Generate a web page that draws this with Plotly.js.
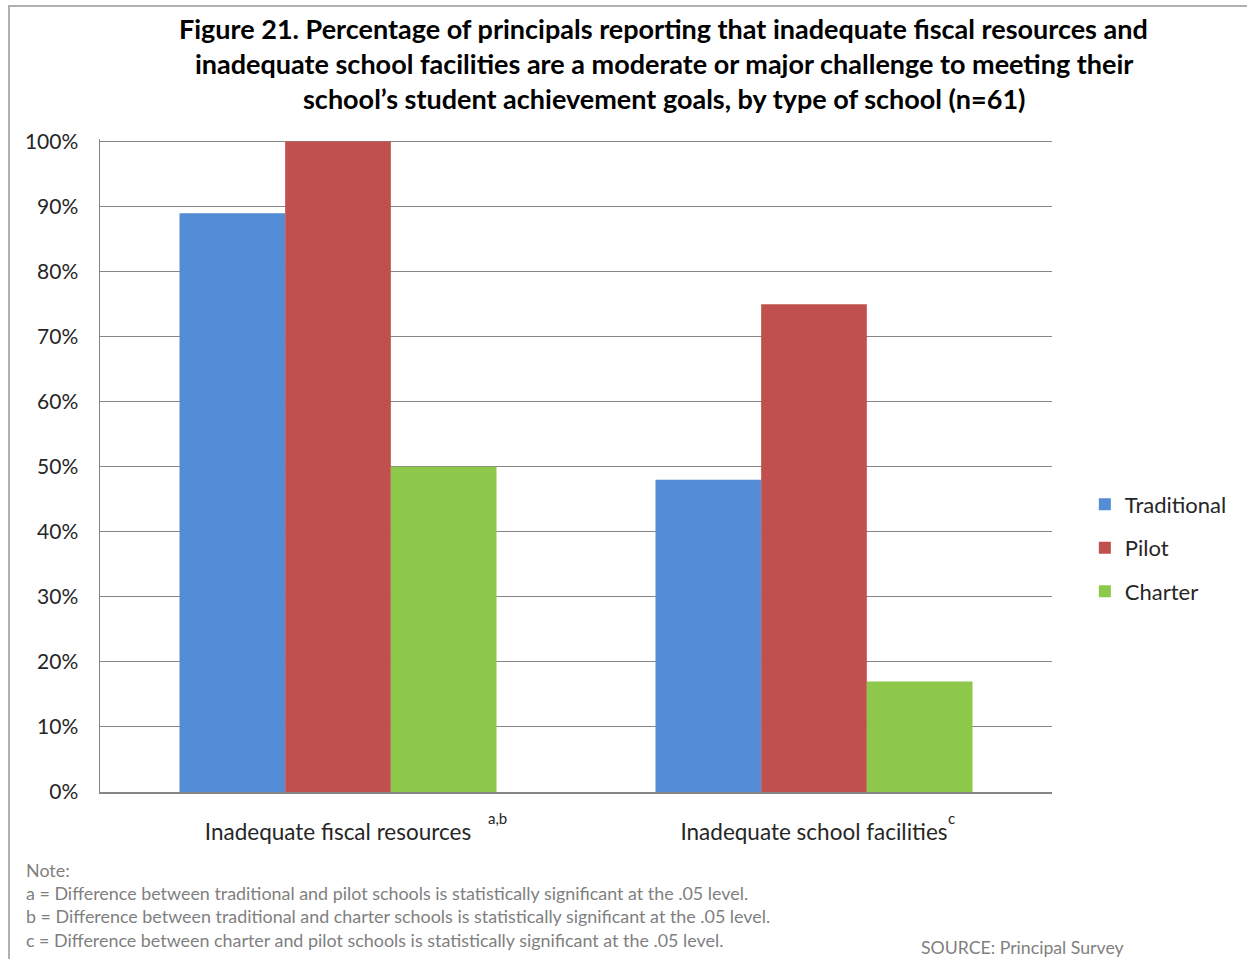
<!DOCTYPE html>
<html><head><meta charset="utf-8">
<script src="https://cdn.plot.ly/plotly-3.0.1.min.js"></script>
<style>body{margin:0;padding:0;background:#fff;overflow:hidden}#frame{position:absolute;left:8px;top:5px;width:1300px;height:1000px;border-left:2px solid #b0b0b0;border-top:2px solid #b0b0b0;pointer-events:none}</style>
</head><body>
<div id="chart" style="width:1247px;height:959px"></div>
<div id="frame"></div>
<script>
const categories = ["Inadequate fiscal resources", "Inadequate school facilities"];
const superscripts = ["a,b", "c"];
const traditional = [0.89, 0.48];
const pilot = [1.00, 0.75];
const charter = [0.50, 0.17];
const tickVals = [0, 0.1, 0.2, 0.3, 0.4, 0.5, 0.6, 0.7, 0.8, 0.9, 1.0];
const tickText = ["0%", "10%", "20%", "30%", "40%", "50%", "60%", "70%", "80%", "90%", "100%"];
const titleLines = [
  "Figure 21. Percentage of principals reporting that inadequate fiscal resources and",
  "inadequate school facilities are a moderate or major challenge to meeting their",
  "school’s student achievement goals, by type of school (n=61)"
];
const notes = [
  "Note:",
  "a = Difference between traditional and pilot schools is statistically significant at the .05 level.",
  "b = Difference between traditional and charter schools is statistically significant at the .05 level.",
  "c = Difference between charter and pilot schools is statistically significant at the .05 level."
];
const sourceText = "SOURCE: Principal Survey";

const FONT = "Lato, 'Open Sans', sans-serif";

const traces = [
  {type: 'bar', name: 'Traditional', legendgroup: 't', x: categories, y: traditional, marker: {color: '#538DD5'}},
  {type: 'bar', name: 'Pilot', legendgroup: 'p', x: categories, y: pilot, marker: {color: '#C0504D'}},
  {type: 'bar', name: 'Charter', legendgroup: 'c', x: categories, y: charter, marker: {color: '#8DC84A'}}
];

// paper coords: plot area spans y 139.4 .. 792 px (height 652.6)
const H = 652.6;
const py = (px) => (792 - px) / H;
const annotations = [];
const titleYpx = [29, 64, 99];
titleLines.forEach((t, i) => annotations.push({
  text: '<b>' + t + '</b>', xref: 'paper', yref: 'paper', x: 0.5924, y: py(titleYpx[i]),
  xanchor: 'center', yanchor: 'middle', showarrow: false,
  font: {family: FONT, size: 27, color: '#000'}
}));
const noteYpx = [870, 893, 916, 940];
notes.forEach((t, i) => annotations.push({
  text: t, xref: 'paper', yref: 'paper', x: -0.0798, y: py(noteYpx[i]),
  xanchor: 'left', yanchor: 'middle', showarrow: false,
  font: {family: FONT, size: 17.9, color: '#7f7f7f'}
}));
annotations.push({
  text: sourceText, xref: 'paper', yref: 'paper', x: 0.8603, y: py(947),
  xanchor: 'left', yanchor: 'middle', showarrow: false,
  font: {family: FONT, size: 17.7, color: '#7f7f7f'}
});
const supX = [0.418, 0.894];
superscripts.forEach((s, i) => annotations.push({
  text: s, xref: 'paper', yref: 'paper', x: supX[i], y: py(818),
  xanchor: 'center', yanchor: 'middle', showarrow: false,
  font: {family: FONT, size: 15, color: '#262626'}
}));

const layout = {
  width: 1247, height: 959,
  margin: {l: 100, r: 195, t: 139.4, b: 167},
  paper_bgcolor: '#fff', plot_bgcolor: '#fff',
  barmode: 'group', bargap: 0.334, bargroupgap: 0,
  font: {family: FONT, color: '#262626'},
  xaxis: {
    showline: true, linecolor: '#868686', linewidth: 1.5,
    ticks: '', tickfont: {family: FONT, size: 22.5, color: '#262626'},
    ticklabelstandoff: 19
  },
  yaxis: {
    range: [0, 1.004], tickvals: tickVals, ticktext: tickText,
    showgrid: true, gridcolor: '#868686', gridwidth: 1,
    showline: true, linecolor: '#868686', linewidth: 1.5,
    zeroline: false, ticks: '', ticklabelstandoff: 16,
    tickfont: {family: FONT, size: 21, color: '#262626'}
  },
  legend: {
    x: 1.0345, y: py(548), xanchor: 'left', yanchor: 'middle',
    font: {family: FONT, size: 22, color: '#262626'},
    traceorder: 'grouped', tracegroupgap: 12
  },
  annotations: annotations
};
Plotly.newPlot('chart', traces, layout, {displayModeBar: false, staticPlot: true});
</script>
</body></html>
